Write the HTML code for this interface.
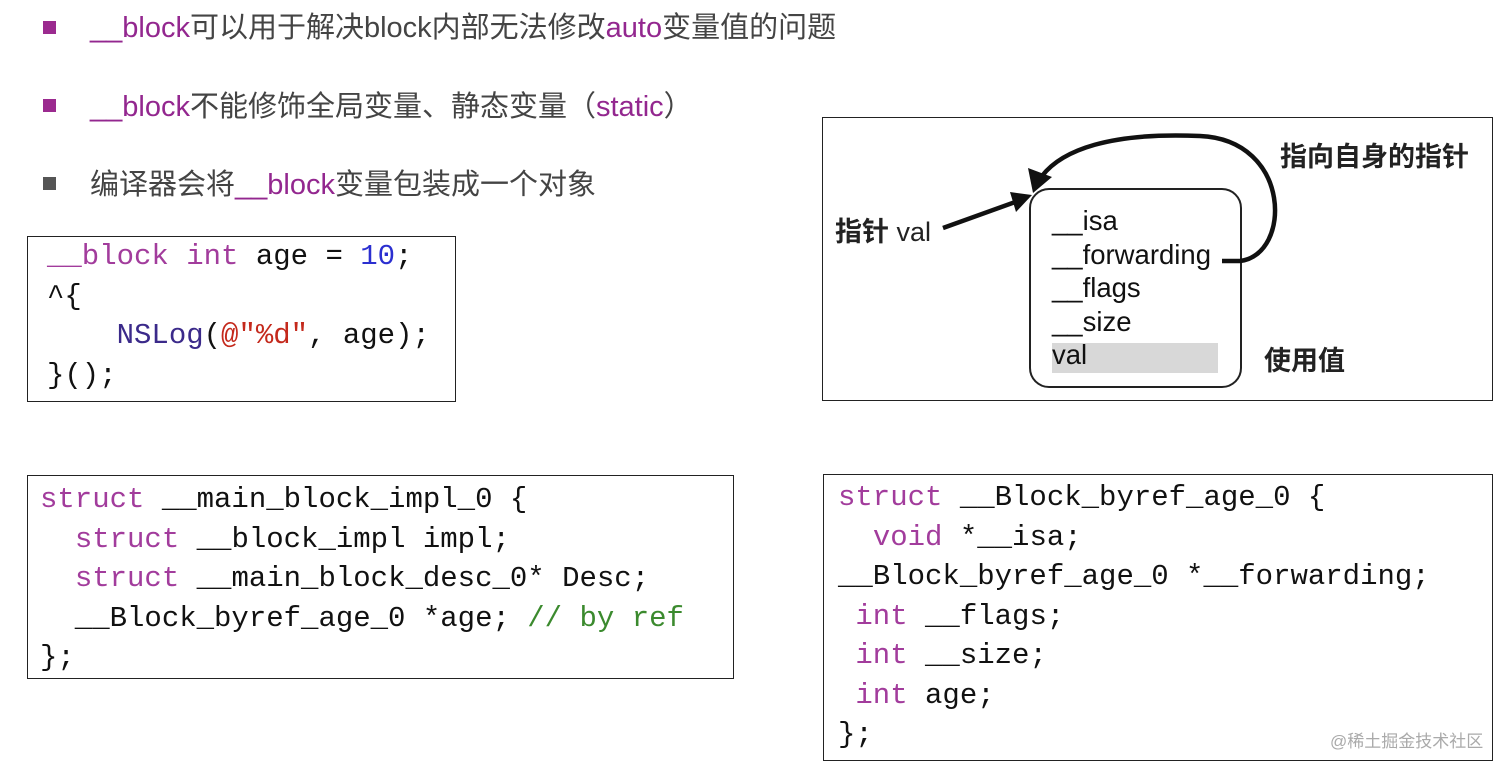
<!DOCTYPE html>
<html><head><meta charset="utf-8"><style>
body{margin:0;width:1512px;height:769px;background:#fff;position:relative;overflow:hidden;font-family:"Liberation Sans","Noto Sans CJK SC",sans-serif}
.a{position:absolute;white-space:pre}
.h{font-size:29px;color:#444;line-height:32px}
.p{color:#93278f}
.sq{position:absolute;width:13px;height:13px}
.box{position:absolute;border:1.5px solid #222;box-sizing:border-box}
.c{position:absolute;white-space:pre;font-family:"Liberation Mono",monospace;font-size:29px;color:#111;line-height:39.5px}
.k{color:#a23c9c}.n{color:#2b2fd0}.s{color:#c4291c}.g{color:#3b8a2e}.f{color:#3b2a8a}
.d{position:absolute;white-space:pre;font-size:27.5px;color:#111;line-height:33.5px}
.cj{position:absolute;font-size:27px;font-weight:bold;color:#222;white-space:pre}
</style></head><body>
<div class="sq" style="left:43px;top:21px;background:#9b2a8f"></div>
<div class="a h" style="left:90px;top:12px"><span class="p">__block</span>可以用于解决block内部无法修改<span class="p">auto</span>变量值的问题</div>
<div class="sq" style="left:43px;top:99px;background:#9b2a8f"></div>
<div class="a h" style="left:90px;top:91px"><span class="p">__block</span>不能修饰全局变量、静态变量（<span class="p">static</span>）</div>
<div class="sq" style="left:43px;top:177px;background:#555"></div>
<div class="a h" style="left:90px;top:169px">编译器会将<span class="p">__block</span>变量包装成一个对象</div>

<div class="box" style="left:27px;top:236px;width:429px;height:166px"></div>
<div class="c" style="left:47px;top:237px"><span class="k">__block int</span> age = <span class="n">10</span>;
^{
    <span class="f">NSLog</span>(<span class="s">@"%d"</span>, age);
}();</div>

<div class="box" style="left:822px;top:117px;width:671px;height:284px"></div>
<div style="position:absolute;left:1029px;top:188px;width:213px;height:200px;border:2.5px solid #222;border-radius:20px;box-sizing:border-box"></div>
<div style="position:absolute;left:1052px;top:343px;width:166px;height:30px;background:#d8d8d8"></div>
<div class="d" style="left:1052px;top:204px">__isa
__forwarding
__flags
__size
val</div>
<div class="cj" style="left:835px;top:210px">指针 <span style="font-weight:normal">val</span></div>
<div class="cj" style="left:1280px;top:135px">指向自身的指针</div>
<div class="cj" style="left:1264px;top:339px">使用值</div>
<svg style="position:absolute;left:0;top:0" width="1512" height="769">
<path d="M943,228 L1018,201" stroke="#111" stroke-width="4.5" fill="none"/>
<polygon points="1032,195 1010,192 1016,212" fill="#111"/>
<path d="M1222,261 L1240,261 C1292,255 1292,140 1200,136 C1110,132 1062,150 1042,176" stroke="#111" stroke-width="4.5" fill="none"/>
<polygon points="1033,193 1028,168 1052,177" fill="#111"/>
</svg>

<div class="box" style="left:27px;top:475px;width:707px;height:204px"></div>
<div class="c" style="left:40px;top:480px"><span class="k">struct</span> __main_block_impl_0 {
  <span class="k">struct</span> __block_impl impl;
  <span class="k">struct</span> __main_block_desc_0* Desc;
  __Block_byref_age_0 *age; <span class="g">// by ref</span>
};</div>

<div class="box" style="left:823px;top:474px;width:670px;height:287px"></div>
<div class="c" style="left:838px;top:478px"><span class="k">struct</span> __Block_byref_age_0 {
  <span class="k">void</span> *__isa;
__Block_byref_age_0 *__forwarding;
 <span class="k">int</span> __flags;
 <span class="k">int</span> __size;
 <span class="k">int</span> age;
};</div>
<div class="a" style="left:1330px;top:727px;font-size:17px;color:#aaa">@稀土掘金技术社区</div>
</body></html>
